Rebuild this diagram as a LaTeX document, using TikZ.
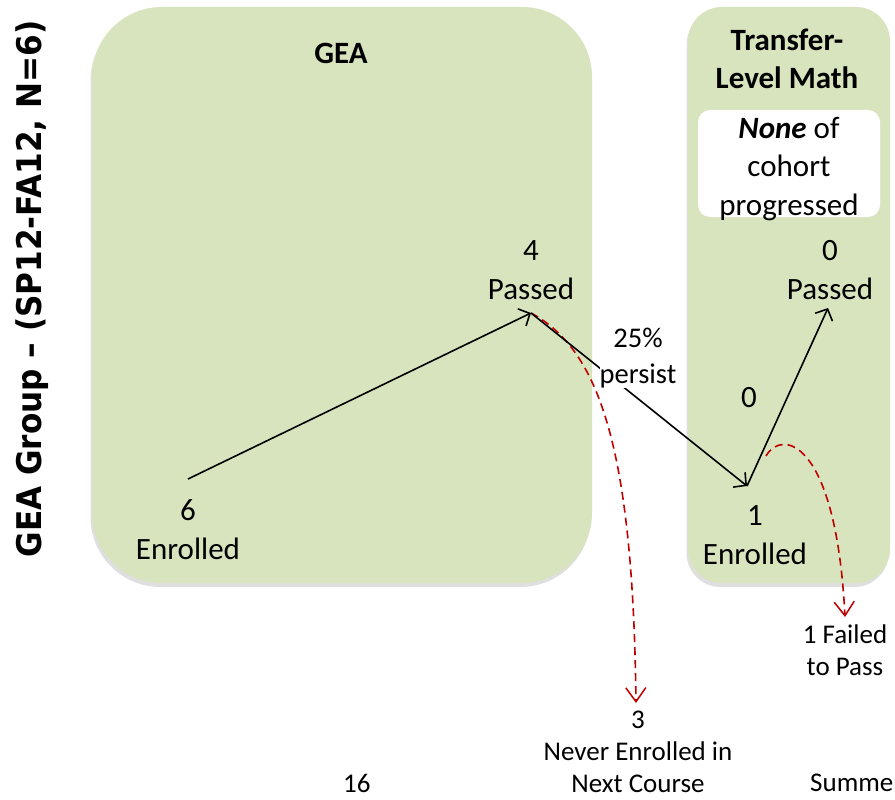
\documentclass[tikz,border=0pt]{standalone}
\usepackage{fontspec}
\setmainfont{Carlito}
\newfontfamily\titlefont{DejaVu Sans}
\usetikzlibrary{arrows.meta,shadows}
\definecolor{boxgreen}{RGB}{215,228,189}
\definecolor{darkred}{RGB}{192,0,0}
\tikzset{
  panel/.style={fill=boxgreen, draw=none, drop shadow={shadow xshift=-1.5pt, shadow yshift=-4pt, opacity=0.25}},
  txt/.style={align=center, inner sep=1pt, font=\fontsize{31}{39}\selectfont},
  smalltxt/.style={align=center, inner sep=1pt, font=\fontsize{27}{32}\selectfont},
  flow/.style={line width=1.6pt, black, -{Straight Barb[length=9pt,width=19pt,line width=1.6pt]}},
  drop/.style={line width=1.6pt, darkred, dash pattern=on 8pt off 5pt, -{Straight Barb[length=14pt,width=20pt,line width=1.5pt]}}
}
\begin{document}
\begin{tikzpicture}[x=1pt,y=-1pt]
\useasboundingbox (0,0) rectangle (895,800);
\clip (0,0) rectangle (895,800);
\fill[white] (0,0) rectangle (895,800);
% panels
\path[panel, rounded corners=70pt] (92,7) rectangle (592,583);
\path[panel, rounded corners=34pt] (688,7) rectangle (890,583);
\fill[white, rounded corners=12pt] (698,110) rectangle (880,217);
% side title
\node[rotate=90, xscale=0.915, font=\titlefont\bfseries\fontsize{34}{40}\selectfont] (title) at (32,289) {GEA Group – (SP12-FA12, N=6)};
% panel titles
\node[txt, font=\bfseries\fontsize{31}{39}\selectfont] (gea) at (341,53) {GEA};
\node[txt, font=\bfseries\fontsize{31}{38}\selectfont] (tlm) at (787,59) {Transfer-\\Level Math};
\node[txt, font=\fontsize{31}{38.5}\selectfont] (none) at (789,169) {\textbf{\textit{None}} of\\cohort\\progressed};
% counts
\node[txt] (enr6) at (188,530) {6\\Enrolled};
\node[txt] (pass4) at (531,270) {4\\Passed};
\node[txt] (enr1) at (755,535) {1\\Enrolled};
\node[txt] (pass0) at (830,270) {0\\Passed};
\node[txt] (zero) at (749,398) {0};
% connector anchor points
\coordinate (a6) at (188,479);
\coordinate (a4) at (531,313);
\coordinate (a1) at (747,486);
\coordinate (a0) at (828,308);
\coordinate (r1) at (766,456);
\coordinate (d3) at (636,703);
\coordinate (d1) at (845,617);
% red drops
\draw[drop] (a4) .. controls (600,350) and (633,450) .. (d3);
\draw[drop] (r1) .. controls (782,428) and (836,440) .. (d1);
% black flows
\draw[flow] (a6) -- (a4);
\draw[flow] (a4) -- (a1);
\draw[flow] (a1) -- (a0);
% persist label over line
\node[align=center, fill=white, inner sep=0pt, font=\fontsize{28.5}{36}\selectfont] (persist) at (638,358) {25\%\\persist};
% outcome labels
\node[smalltxt] (fail) at (845,650) {1 Failed\\to Pass};
\node[smalltxt] (never) at (638,752) {3\\Never Enrolled in\\Next Course};
\node[smalltxt, anchor=west] (sixteen) at (342,783) {16};
\node[smalltxt, anchor=west] (summer) at (809,783) {Summer};
\end{tikzpicture}
\end{document}
